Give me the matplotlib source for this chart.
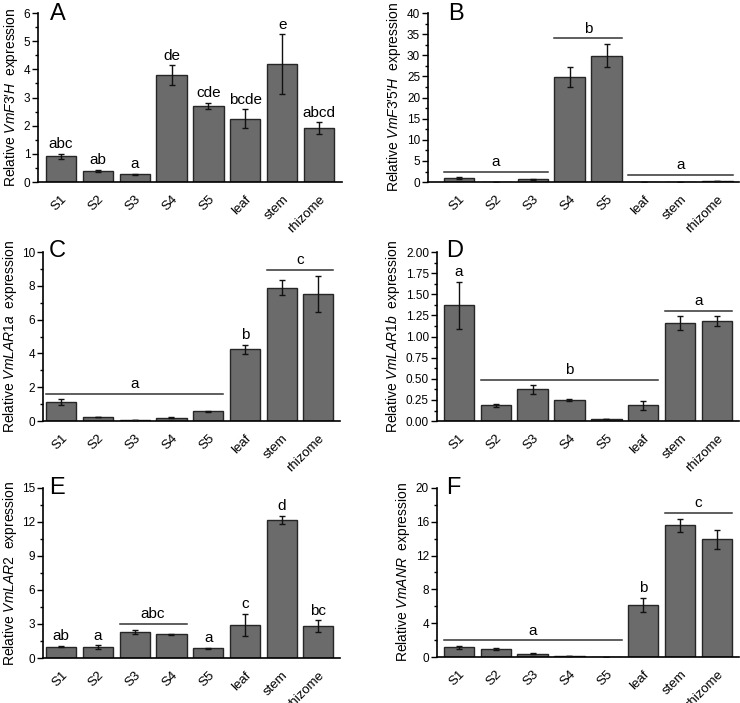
import matplotlib
matplotlib.use("Agg")
import matplotlib.pyplot as plt
from matplotlib.ticker import MultipleLocator, FormatStrFormatter

plt.rcParams["font.family"] = ["Liberation Sans", "DejaVu Sans"]
plt.rcParams["mathtext.fontset"] = "custom"
plt.rcParams["mathtext.rm"] = "Liberation Sans"
plt.rcParams["mathtext.it"] = "Liberation Sans:italic"

samples = ["S1", "S2", "S3", "S4", "S5", "leaf", "stem", "rhizome"]

# panel A - VmF3'H
a_mean = [0.91, 0.40, 0.27, 3.79, 2.71, 2.25, 4.19, 1.92]
a_err = [0.10, 0.04, 0.02, 0.35, 0.11, 0.33, 1.05, 0.20]
a_text = ["abc", "ab", "a", "de", "cde", "bcde", "e", "abcd"]

# panel B - VmF3'5'H
b_mean = [0.95, 0.10, 0.63, 24.9, 29.9, 0.05, 0.05, 0.30]
b_err = [0.15, 0.03, 0.15, 2.35, 2.75, 0.0, 0.0, 0.05]

# panel C - VmLAR1a
c_mean = [1.12, 0.24, 0.05, 0.20, 0.57, 4.24, 7.89, 7.53]
c_err = [0.19, 0.02, 0.01, 0.02, 0.02, 0.29, 0.46, 1.05]

# panel D - VmLAR1b
d_mean = [1.37, 0.185, 0.375, 0.25, 0.03, 0.185, 1.16, 1.18]
d_err = [0.275, 0.02, 0.055, 0.007, 0.0, 0.057, 0.08, 0.058]

# panel E - VmLAR2
e_mean = [1.0, 0.95, 2.29, 2.10, 0.85, 2.88, 12.15, 2.79]
e_err = [0.05, 0.17, 0.18, 0.05, 0.05, 0.98, 0.37, 0.52]

# panel F - VmANR
f_mean = [1.14, 0.93, 0.39, 0.08, 0.06, 6.15, 15.58, 13.92]
f_err = [0.17, 0.08, 0.06, 0.0, 0.0, 0.85, 0.79, 1.15]

PR = "\u2032"  # prime

# (tag, ylabel, mean, err, ymax, major, fmt, letters per bar, brackets, rect, xlim, tag pos)
panels = [
    ("A", "Relative $\\mathit{VmF3" + PR + "H}$  expression", a_mean, a_err, 6, 1, "%d",
     dict(zip(range(8), a_text)), [],
     [0.0514, 0.741, 0.4106, 0.2405], (-0.62, 7.62), (0.04, 1.06)),
    ("B", "Relative $\\mathit{VmF3" + PR + "5" + PR + "H}$  expression", b_mean, b_err, 40, 5, "%d",
     {}, [(0, 2, 2.4, "a"), (3, 4, 34.0, "b"), (5, 7, 1.7, "a")],
     [0.578, 0.741, 0.42, 0.2405], (-0.84, 7.57), (0.065, 1.06)),
    ("C", "Relative $\\mathit{VmLAR1a}$  expression", c_mean, c_err, 10, 2, "%d",
     {5: "b"}, [(0, 4, 1.62, "a"), (6, 7, 8.95, "c")],
     [0.058, 0.401, 0.402, 0.2405], (-0.5, 7.6), (0.02, 1.07)),
    ("D", "Relative $\\mathit{VmLAR1b}$  expression", d_mean, d_err, 2.0, 0.25, "%.2f",
     {0: "a"}, [(1, 5, 0.49, "b"), (6, 7, 1.30, "a")],
     [0.59, 0.401, 0.408, 0.2405], (-0.6, 7.58), (0.033, 1.07)),
    ("E", "Relative $\\mathit{VmLAR2}$  expression", e_mean, e_err, 15, 3, "%d",
     {0: "ab", 1: "a", 4: "a", 5: "c", 6: "d", 7: "bc"}, [(2, 3, 3.0, "abc")],
     [0.058, 0.064, 0.402, 0.242], (-0.5, 7.6), (0.02, 1.065)),
    ("F", "Relative $\\mathit{VmANR}$  expression", f_mean, f_err, 20, 4, "%d",
     {5: "b"}, [(0, 4, 1.97, "a"), (6, 7, 17.0, "c")],
     [0.59, 0.0654, 0.408, 0.2406], (-0.6, 7.58), (0.033, 1.065)),
]

fig = plt.figure(figsize=(7.4, 7.03), dpi=100)
width = 0.82
x = list(range(len(samples)))

for (tag, ylab, mean, err, ymax, major, fmt, letters, brackets,
     rect, xlim, tagpos) in panels:
    ax = fig.add_axes(rect)
    ax.bar(x, mean, width=width, color="#6b6b6b", edgecolor="#262626",
           linewidth=1.0, zorder=2)
    ax.errorbar(x, mean, yerr=err, fmt="none", ecolor="#111111",
                elinewidth=1.0, capsize=2.5, capthick=1.0, zorder=3)
    ax.set_xlim(*xlim)
    ax.set_ylim(0, ymax)
    ax.yaxis.set_major_locator(MultipleLocator(major))
    ax.yaxis.set_minor_locator(MultipleLocator(major / 2))
    ax.yaxis.set_major_formatter(FormatStrFormatter(fmt))
    ax.set_xticks(x)
    ax.set_xticklabels(samples, rotation=45, ha="right", rotation_mode="anchor")
    ax.tick_params(axis="x", length=0, pad=8, labelsize=9.5)
    ax.tick_params(axis="y", which="major", length=4, width=1.0, labelsize=8.5, pad=1.5)
    ax.tick_params(axis="y", which="minor", length=2.5, width=1.0)
    for s in ["top", "right"]:
        ax.spines[s].set_visible(False)
    for s in ["left", "bottom"]:
        ax.spines[s].set_linewidth(1.2)
    ax.set_ylabel(ylab, fontsize=10, labelpad=2.5)

    for i, t in letters.items():
        ax.annotate(t, (i, mean[i] + err[i]), xytext=(0, 2),
                    textcoords="offset points", ha="center", va="bottom",
                    fontsize=11)
    for i0, i1, yv, t in brackets:
        ax.plot([i0 - width / 2, i1 + width / 2], [yv, yv], color="#333333",
                lw=1.1, clip_on=False, zorder=4)
        ax.annotate(t, ((i0 + i1) / 2, yv), xytext=(0, 2),
                    textcoords="offset points", ha="center", va="bottom",
                    fontsize=11)

    ax.text(tagpos[0], tagpos[1], tag, transform=ax.transAxes, fontsize=17,
            ha="left", va="top")

fig.savefig("out.png", dpi=100)
